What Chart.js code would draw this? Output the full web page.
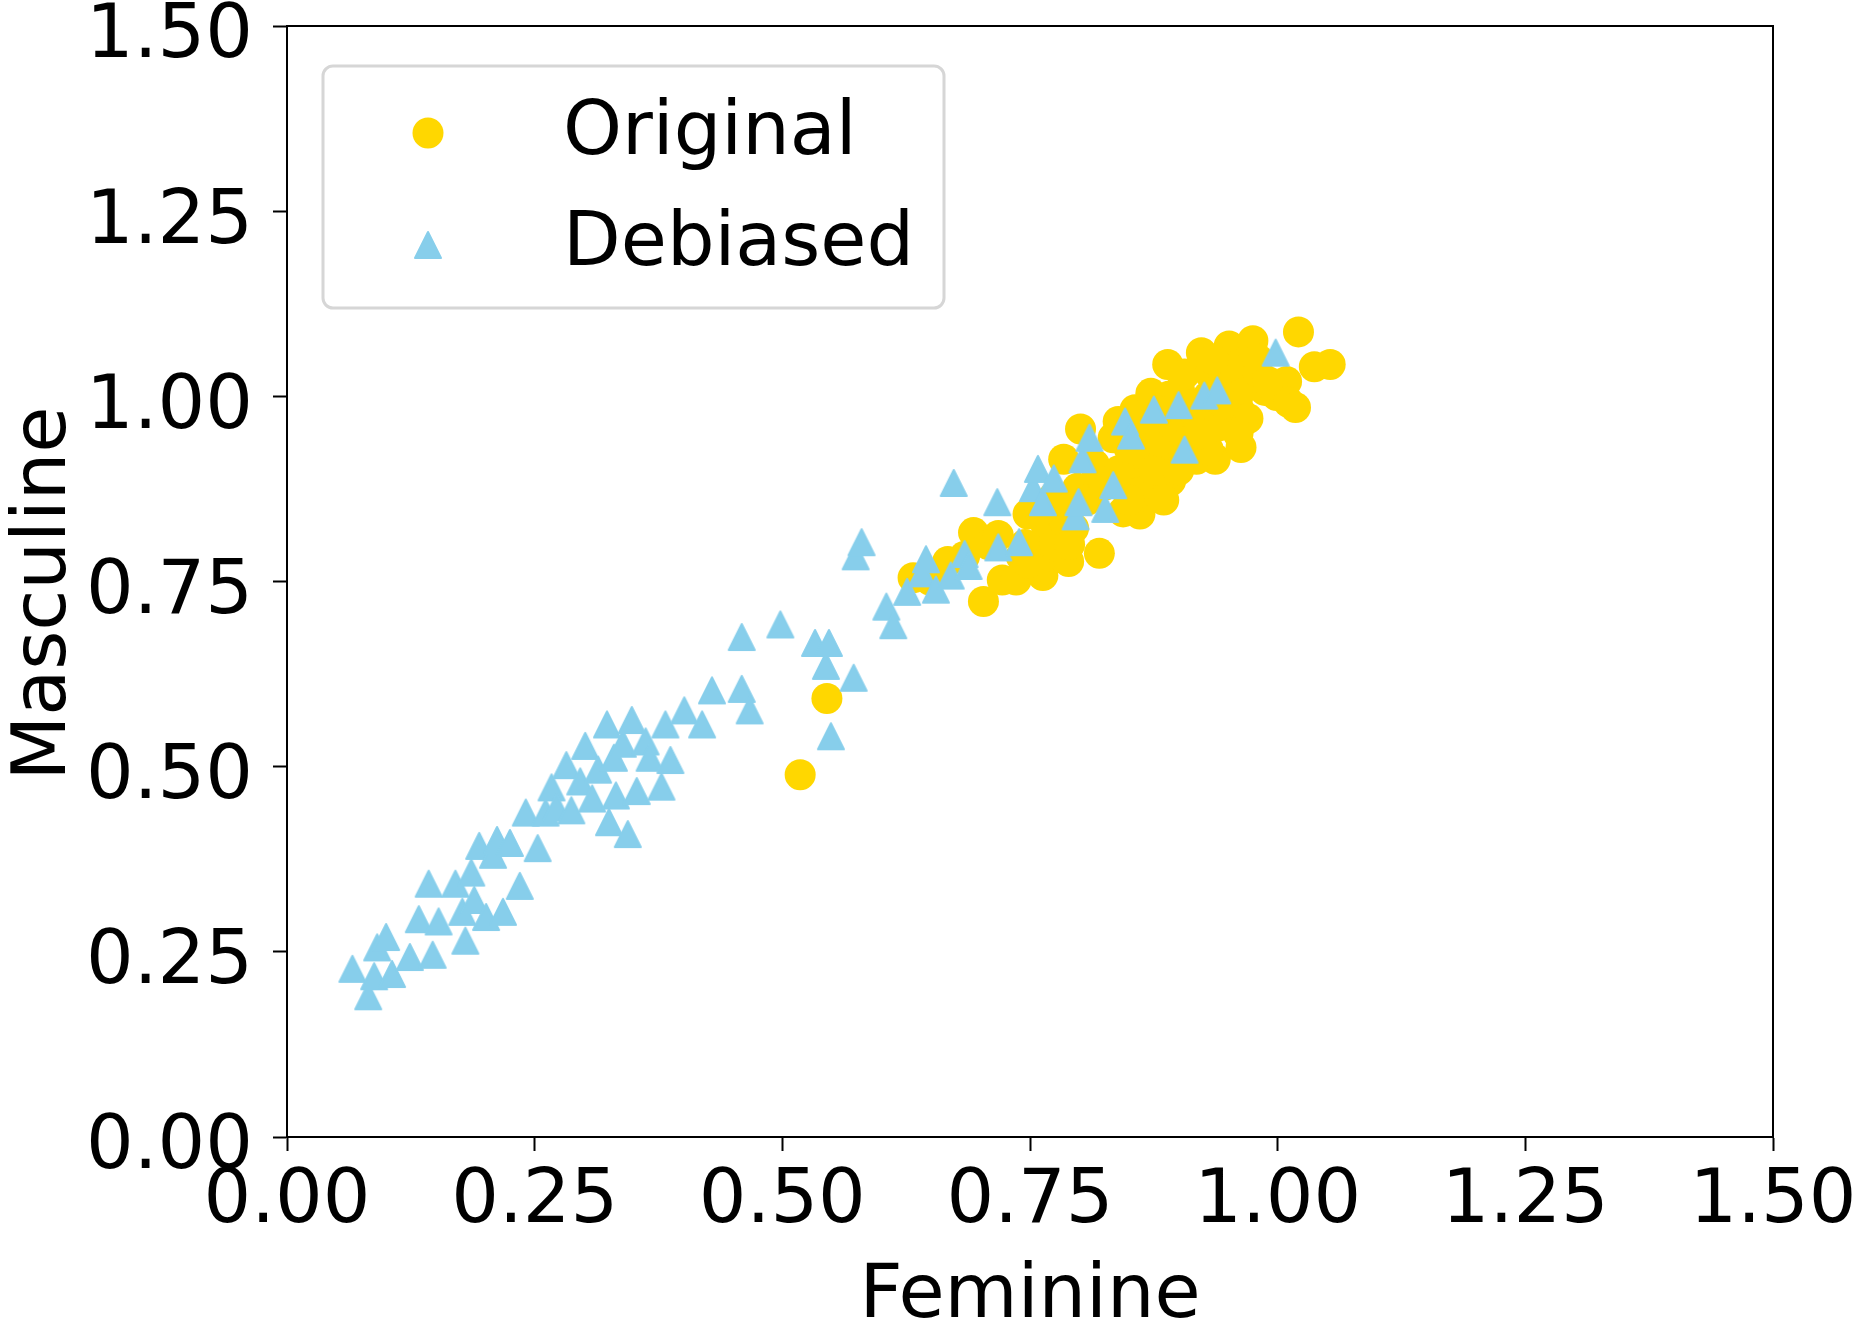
<!DOCTYPE html>
<html>
<head>
<meta charset="utf-8">
<script src="https://cdn.jsdelivr.net/npm/chart.js@4.4.1/dist/chart.umd.min.js"></script>
<style>
  html, body { margin: 0; padding: 0; background: #fff; }
  #wrap { width: 1857px; height: 1329px; }
</style>
</head>
<body>
<div id="wrap"><canvas id="grafico" width="1857" height="1329"></canvas></div>
<script>
// valores
var xTicks = [0, 0.25, 0.5, 0.75, 1.0, 1.25, 1.5];
var yTicks = [0, 0.25, 0.5, 0.75, 1.0, 1.25, 1.5];

var originalX = [0.518, 0.545, 0.632, 0.649, 0.667, 0.684, 0.693, 0.703, 0.708, 0.718, 0.722, 0.736, 0.741, 0.748,
  0.753, 0.763, 0.767, 0.774, 0.782, 0.784, 0.789, 0.794, 0.798, 0.801, 0.808, 0.815, 0.820, 0.825, 0.834, 0.839,
  0.844, 0.849, 0.856, 0.861, 0.863, 0.868, 0.872, 0.877, 0.882, 0.889, 0.892, 0.896, 0.901, 0.906, 0.911, 0.918,
  0.923, 0.928, 0.932, 0.937, 0.942, 0.946, 0.951, 0.956, 0.961, 0.963, 0.966, 0.970, 0.975, 0.980, 0.987, 0.999,
  1.009, 1.011, 1.018, 1.021, 1.037, 1.053, 0.858, 0.870, 0.906, 0.954, 0.930,
  0.745, 0.755, 0.765, 0.775, 0.785, 0.790, 0.760, 0.778, 0.748,
  0.840, 0.850, 0.860, 0.865, 0.875, 0.880, 0.885, 0.895, 0.900, 0.910, 0.915, 0.850,
  0.930, 0.940, 0.950, 0.960, 0.970, 0.980, 0.990, 0.920, 0.935, 0.905, 0.890, 0.880, 0.945, 0.960];
var originalY = [0.489, 0.592, 0.755, 0.752, 0.777, 0.784, 0.816, 0.723, 0.800, 0.812, 0.752, 0.752, 0.784, 0.841,
  0.793, 0.758, 0.816, 0.864, 0.784, 0.915, 0.777, 0.822, 0.876, 0.956, 0.860, 0.908, 0.788, 0.880, 0.944, 0.966,
  0.844, 0.889, 0.982, 0.841, 0.912, 0.883, 1.004, 0.928, 0.960, 1.043, 0.886, 0.928, 1.008, 1.030, 0.953, 0.915,
  1.059, 0.979, 1.030, 0.915, 0.972, 1.027, 1.068, 0.998, 0.982, 0.931, 1.021, 1.049, 1.075, 1.033, 1.008, 1.001,
  1.020, 0.992, 0.985, 1.087, 1.040, 1.043, 0.944, 0.864, 0.976, 0.960, 0.928,
  0.800, 0.770, 0.830, 0.800, 0.830, 0.800, 0.845, 0.855, 0.775,
  0.900, 0.930, 0.870, 0.950, 0.900, 0.940, 0.860, 0.960, 0.900, 0.940, 0.980, 0.860,
  1.000, 0.960, 1.040, 1.000, 0.970, 1.050, 1.020, 0.950, 1.050, 0.990, 1.000, 0.980, 0.990, 0.950];

var debiasedX = [0.066, 0.082, 0.088, 0.091, 0.100, 0.106, 0.124, 0.133, 0.143, 0.147, 0.153, 0.170, 0.177, 0.180,
  0.186, 0.189, 0.194, 0.201, 0.208, 0.212, 0.218, 0.225, 0.235, 0.241, 0.253, 0.261, 0.267, 0.272, 0.282, 0.287,
  0.296, 0.301, 0.308, 0.314, 0.323, 0.325, 0.330, 0.332, 0.339, 0.344, 0.348, 0.353, 0.362, 0.366, 0.378, 0.382,
  0.387, 0.401, 0.419, 0.429, 0.459, 0.459, 0.467, 0.498, 0.533, 0.544, 0.547, 0.549, 0.572, 0.574, 0.580, 0.605,
  0.612, 0.626, 0.641, 0.645, 0.655, 0.670, 0.673, 0.684, 0.688, 0.717, 0.718, 0.739, 0.753, 0.758, 0.763, 0.774,
  0.796, 0.799, 0.803, 0.810, 0.826, 0.834, 0.846, 0.852, 0.875, 0.900, 0.906, 0.926, 0.939, 0.998];
var debiasedY = [0.227, 0.190, 0.217, 0.256, 0.270, 0.220, 0.243, 0.294, 0.342, 0.246, 0.291, 0.342, 0.304, 0.265,
  0.357, 0.320, 0.393, 0.297, 0.381, 0.401, 0.304, 0.397, 0.339, 0.438, 0.390, 0.438, 0.472, 0.445, 0.502, 0.441,
  0.480, 0.528, 0.457, 0.496, 0.557, 0.425, 0.512, 0.461, 0.531, 0.409, 0.563, 0.467, 0.534, 0.512, 0.473, 0.557,
  0.509, 0.576, 0.557, 0.603, 0.675, 0.605, 0.576, 0.692, 0.667, 0.636, 0.667, 0.541, 0.620, 0.784, 0.803, 0.716,
  0.691, 0.736, 0.761, 0.780, 0.739, 0.758, 0.883, 0.787, 0.771, 0.857, 0.796, 0.803, 0.876, 0.902, 0.857, 0.889,
  0.838, 0.857, 0.915, 0.944, 0.848, 0.880, 0.966, 0.947, 0.982, 0.988, 0.928, 1.001, 1.008, 1.059];

var corOriginal = '#FFD700';
var corDebiased = '#87CEEB';
var fonte = 'DejaVu Sans';
var tamFonte = 75;

function pontos(xs, ys){
    return xs.map(function(x, i){ return {x: x, y: ys[i]}; });
}

// triangulo estilo matplotlib '^' (largura = altura)
function trianguloCanvas(cor, lado){
    var c = document.createElement('canvas');
    c.width = lado + 4;
    c.height = lado + 4;
    var g = c.getContext('2d');
    g.fillStyle = cor;
    g.strokeStyle = cor;
    g.lineWidth = 2;
    g.lineJoin = 'round';
    g.beginPath();
    g.moveTo(c.width / 2, 2);
    g.lineTo(c.width - 2, c.height - 2);
    g.lineTo(2, c.height - 2);
    g.closePath();
    g.fill();
    g.stroke();
    return c;
}
var triangulo = trianguloCanvas(corDebiased, 26);

// moldura completa, titulo do eixo y e legenda dentro da area
var molduraLegenda = {
    id: 'molduraLegenda',
    afterDraw: function(chart){
        var ctx = chart.ctx;
        var a = chart.chartArea;
        ctx.save();
        ctx.strokeStyle = '#000';
        ctx.lineWidth = 2;
        ctx.strokeRect(a.left, a.top, a.right - a.left, a.bottom - a.top);

        // titulo vertical
        ctx.save();
        ctx.translate(46, (a.top + a.bottom) / 2 + 12);
        ctx.rotate(-Math.PI / 2);
        ctx.fillStyle = '#000';
        ctx.font = tamFonte + 'px "' + fonte + '"';
        ctx.textAlign = 'center';
        ctx.textBaseline = 'middle';
        ctx.fillText('Masculine', 0, 0);
        ctx.restore();

        // caixa da legenda
        var bx = a.left + 36, by = a.top + 40, bw = 621, bh = 242, r = 10;
        ctx.beginPath();
        ctx.moveTo(bx + r, by);
        ctx.arcTo(bx + bw, by, bx + bw, by + bh, r);
        ctx.arcTo(bx + bw, by + bh, bx, by + bh, r);
        ctx.arcTo(bx, by + bh, bx, by, r);
        ctx.arcTo(bx, by, bx + bw, by, r);
        ctx.closePath();
        ctx.fillStyle = 'rgba(255,255,255,0.8)';
        ctx.fill();
        ctx.strokeStyle = '#d6d6d6';
        ctx.lineWidth = 3;
        ctx.stroke();

        var mx = bx + 105;
        ctx.fillStyle = corOriginal;
        ctx.beginPath();
        ctx.arc(mx, by + 67, 15.5, 0, Math.PI * 2);
        ctx.fill();
        ctx.drawImage(triangulo, mx - triangulo.width / 2, by + 179 - triangulo.height / 2);

        ctx.fillStyle = '#000';
        ctx.font = tamFonte + 'px "' + fonte + '"';
        ctx.textAlign = 'left';
        ctx.textBaseline = 'alphabetic';
        ctx.fillText('Original', bx + 240, by + 88);
        ctx.fillText('Debiased', bx + 240, by + 199);
        ctx.restore();
    }
};

var grafico = new Chart(document.getElementById('grafico').getContext('2d'), {
    type: 'scatter',
    data: {
        datasets: [{
            label: 'Debiased',
            data: pontos(debiasedX, debiasedY),
            backgroundColor: corDebiased,
            borderWidth: 0,
            pointStyle: triangulo,
            pointRadius: 15
        }, {
            label: 'Original',
            data: pontos(originalX, originalY),
            backgroundColor: corOriginal,
            borderWidth: 0,
            pointStyle: 'circle',
            pointRadius: 15.5
        }]
    },
    options: {
        responsive: false,
        animation: false,
        devicePixelRatio: 1,
        layout: { padding: { top: 26, right: 84, left: 0, bottom: 0 } },
        plugins: {
            legend: { display: false },
            tooltip: { enabled: false }
        },
        scales: {
            x: {
                type: 'linear',
                min: 0, max: 1.5,
                afterFit: function(scale){
                    scale.height = 192;
                    scale.paddingLeft = 0;
                    scale.paddingRight = 0;
                },
                afterBuildTicks: function(scale){ scale.ticks = xTicks.map(function(v){ return {value: v}; }); },
                ticks: {
                    color: '#000',
                    padding: 7,
                    font: { family: fonte, size: tamFonte, lineHeight: 1.2 },
                    callback: function(v){ return Number(v).toFixed(2); }
                },
                grid: { drawOnChartArea: false, drawTicks: true, tickLength: 14, tickWidth: 2, tickColor: '#000' },
                border: { display: true, color: '#000', width: 2 },
                title: {
                    display: true, text: 'Feminine', color: '#000',
                    font: { family: fonte, size: tamFonte, lineHeight: 0.85 },
                    padding: { top: 0, bottom: 0 }
                }
            },
            y: {
                type: 'linear',
                min: 0, max: 1.5,
                afterFit: function(scale){
                    scale.width = 287;
                    scale.paddingTop = 0;
                    scale.paddingBottom = 0;
                },
                afterBuildTicks: function(scale){ scale.ticks = yTicks.map(function(v){ return {value: v}; }); },
                ticks: {
                    color: '#000',
                    padding: 20,
                    labelOffset: 12,
                    font: { family: fonte, size: tamFonte, lineHeight: 1.2 },
                    callback: function(v){ return Number(v).toFixed(2); }
                },
                grid: { drawOnChartArea: false, drawTicks: true, tickLength: 14, tickWidth: 2, tickColor: '#000' },
                border: { display: true, color: '#000', width: 2 },
                title: { display: false }
            }
        }
    },
    plugins: [molduraLegenda]
});
</script>
</body>
</html>
